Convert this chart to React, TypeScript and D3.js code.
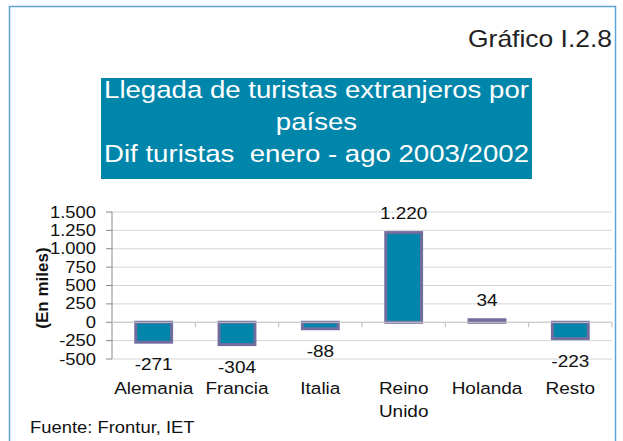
import { useRef, useEffect } from "react";
import * as d3 from "d3";

const categories = ["Alemania", "Francia", "Italia", "Reino Unido", "Holanda", "Resto"];
const values = [-271, -304, -88, 1220, 34, -223];
const yTicks = [-500, -250, 0, 250, 500, 750, 1000, 1250, 1500];
const titleLines = ["Llegada de turistas extranjeros por", "países", "Dif turistas  enero - ago 2003/2002"];

const W = 623;
const H = 441;
const FONT = "'Liberation Sans', Arial, Helvetica, sans-serif";
const SX = 1.15; // the scan is a bit stretched sideways
const fmt = (v: number) => d3.format(",")(v).replace(/,/g, ".").replace("\u2212", "-");

export default function App() {
  const svgRef = useRef<SVGSVGElement>(null);

  useEffect(() => {
    const svg = d3.select(svgRef.current);
    svg.selectAll("*").remove();

    const txt = (g: any, x: number, y: number, s: string, size: number, anchor = "start", fill = "#111") =>
      g.append("text")
        .attr("transform", `translate(${x},${y}) scale(${SX},1)`)
        .attr("text-anchor", anchor)
        .attr("font-family", FONT).attr("font-size", size).attr("fill", fill)
        .style("white-space", "pre")
        .text(s);

    // outer frame
    svg.append("rect")
      .attr("x", 9.5).attr("y", 6.5).attr("width", 606).attr("height", 450)
      .attr("fill", "#fff").attr("stroke", "#5da5d8").attr("stroke-width", 1.5);

    txt(svg, 612, 47, "Gráfico I.2.8", 23, "end", "#222");

    // title box
    svg.append("rect")
      .attr("x", 101).attr("y", 78).attr("width", 431).attr("height", 101)
      .attr("fill", "#0186ab");
    titleLines.forEach((l, i) => txt(svg, 316.5, 97.5 + i * 32, l, 24, "middle", "#fff"));

    const x = d3.scaleBand().domain(categories).range([112, 612]).padding(0);
    const y = d3.scaleLinear().domain([-500, 1500]).range([359, 212]);

    // gridlines
    svg.append("g").selectAll("line").data(yTicks).join("line")
      .attr("x1", 112).attr("x2", 612)
      .attr("y1", (d) => y(d)).attr("y2", (d) => y(d))
      .attr("stroke", "#d4d4d4").attr("stroke-width", 1);

    // y axis
    svg.append("line")
      .attr("x1", 112).attr("x2", 112).attr("y1", y(1500)).attr("y2", y(-500))
      .attr("stroke", "#888").attr("stroke-width", 1);
    svg.append("g").selectAll("line").data(yTicks).join("line")
      .attr("x1", 106).attr("x2", 112)
      .attr("y1", (d) => y(d)).attr("y2", (d) => y(d))
      .attr("stroke", "#888");
    const yl = svg.append("g");
    yTicks.forEach((t) => txt(yl, 96, y(t) + 5.5, fmt(t), 16, "end"));

    svg.append("text")
      .attr("transform", `translate(48,288) rotate(-90)`)
      .attr("text-anchor", "middle")
      .attr("font-family", FONT).attr("font-size", 17).attr("font-weight", "bold")
      .attr("fill", "#111")
      .text("(En miles)");

    // x category ticks on zero line
    const bounds = categories.map((c) => (x(c) as number) + x.bandwidth());
    svg.append("g").selectAll("line").data(bounds).join("line")
      .attr("x1", (d) => d).attr("x2", (d) => d)
      .attr("y1", y(0)).attr("y2", y(0) + 5)
      .attr("stroke", "#bbb");

    const data = categories.map((c, i) => ({ c, v: values[i] }));
    const bw = x.bandwidth() * 0.43;
    const cx = (c: string) => (x(c) as number) + x.bandwidth() / 2;

    svg.append("g").selectAll("rect").data(data).join("rect")
      .attr("x", (d) => cx(d.c) - bw / 2)
      .attr("y", (d) => Math.min(y(d.v), y(0)))
      .attr("width", bw)
      .attr("height", (d) => Math.max(2, Math.abs(y(d.v) - y(0))))
      .attr("fill", "#0186ab")
      .attr("stroke", "#716d9f").attr("stroke-width", 3);

    // zero line
    svg.append("line")
      .attr("x1", 112).attr("x2", 612).attr("y1", y(0)).attr("y2", y(0))
      .attr("stroke", "#c8c8c8");

    // data labels
    const dl = svg.append("g");
    data.forEach((d) =>
      txt(dl, cx(d.c), d.v >= 0 ? y(d.v) - 14 : y(d.v) + 28, fmt(d.v), 16.5, "middle"));

    // category labels ("Reino Unido" wraps onto two lines)
    const cl = svg.append("g");
    categories.forEach((c) => {
      const lines = c === "Reino Unido" ? c.split(" ") : [c];
      lines.forEach((w, i) => txt(cl, cx(c), 394 + i * 23, w, 16.5, "middle"));
    });

    txt(svg, 30, 433, "Fuente: Frontur, IET", 16);
  }, []);

  return (
    <svg
      ref={svgRef}
      width={W}
      height={H}
      style={{ position: "absolute", left: 0, top: 0, background: "#fff" }}
    />
  );
}
